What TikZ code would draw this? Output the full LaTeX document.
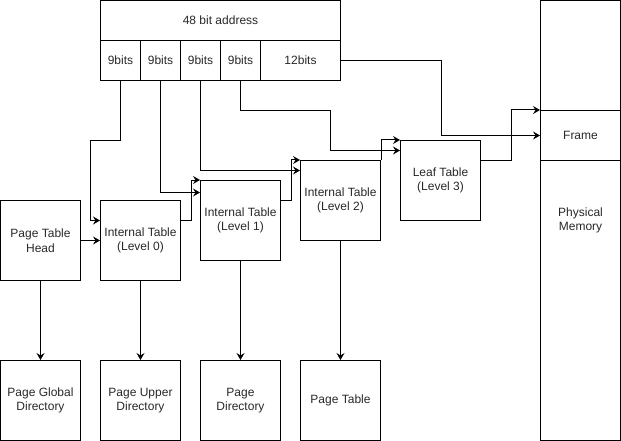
\documentclass[tikz,border=0pt]{standalone}
\usepackage{fontspec}
\setmainfont{Liberation Sans}
\usetikzlibrary{arrows.meta}
\definecolor{txt}{RGB}{40,40,40}
\begin{document}
\begin{tikzpicture}[x=1pt,y=-1pt,
  every node/.style={inner sep=0pt, align=center, font=\fontsize{12}{14.5}\selectfont, text=txt},
  cell/.style={draw, line width=1pt},
  box/.style={cell, minimum width=80pt, minimum height=80pt},
  bitcell/.style={cell, minimum width=40pt, minimum height=40pt},
  wire/.style={line width=1pt, -{Stealth[length=7pt,width=8pt,inset=2.5pt]}},
  plain/.style={line width=1pt}]
\useasboundingbox (-0.5,-0.5) rectangle (620.5,440.5);
% address
\node[cell, minimum width=240pt, minimum height=40pt] (addr) at (220,20) {48 bit address};
\node[bitcell] (b1) at (120,60) {9bits};
\node[bitcell] (b2) at (160,60) {9bits};
\node[bitcell] (b3) at (200,60) {9bits};
\node[bitcell] (b4) at (240,60) {9bits};
\node[cell, minimum width=80pt, minimum height=40pt] (b12) at (300,60) {12bits};
% physical memory
\node[cell, minimum width=80pt, minimum height=440pt] (mem) at (580,220) {Physical\\Memory};
\node[cell, minimum width=80pt, minimum height=50pt] (frame) at (580,135) {Frame};
% tables
\node[box] (pth) at (40,240) {Page Table\\Head};
\node[box] (L0) at (140,240) {Internal Table\\(Level 0)};
\node[box] (L1) at (240,220) {Internal Table\\(Level 1)};
\node[box] (L2) at (340,200) {Internal Table\\(Level 2)};
\node[box] (leaf) at (440,180) {Leaf Table\\(Level 3)};
% directories
\node[box] (pgd) at (40,400) {Page Global\\Directory};
\node[box] (pud) at (140,400) {Page Upper\\Directory};
\node[box] (pd) at (240,400) {Page\\Directory};
\node[box] (pt) at (340,400) {Page Table};
% connectors from bits
\draw[wire] (b1.south) -- ++(0,60) -- ++(-30,0) |- ([yshift=20pt]L0.west);
\draw[wire] (b2.south) |- ([yshift=28pt]L1.west);
\draw[wire] (b3.south) |- ([yshift=30pt]L2.west);
\draw[wire] (b4.south) -- ++(0,30) -- ++(90,0) |- ([yshift=30pt]leaf.west);
\draw[wire] (b12.east) -- ++(100,0) |- (frame.west);
% table chain
\draw[wire] (pth.east) -- (L0.west);
\draw[wire] ([yshift=20pt]L0.east) -- ++(10,0) |- (L1.north west);
\draw[wire] ([yshift=20pt]L1.east) -- ++(10,0) |- (L2.north west);
\draw[wire] (L2.north east) -- ++(0,-20) -- (leaf.north west);
\draw[wire] ([yshift=20pt]leaf.east) -- ++(30,0) |- (frame.north west);
% down arrows
\draw[wire] (pth.south) -- (pgd.north);
\draw[wire] (L0.south) -- (pud.north);
\draw[wire] (L1.south) -- (pd.north);
\draw[wire] (L2.south) -- (pt.north);
\end{tikzpicture}
\end{document}
